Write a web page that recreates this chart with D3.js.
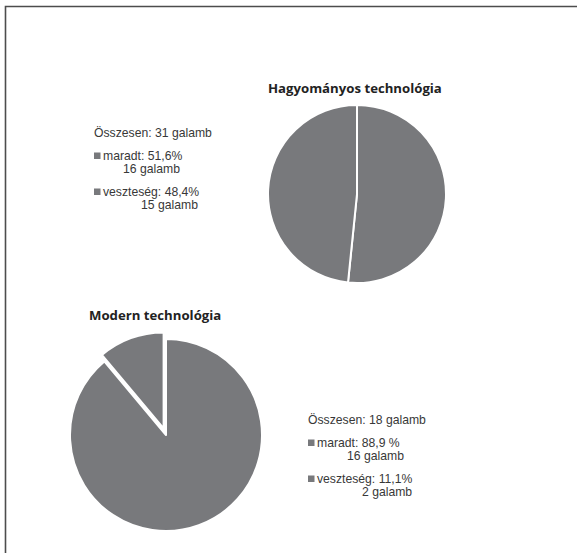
<!DOCTYPE html>
<html>
<head>
<meta charset="utf-8">
<script src="https://cdn.jsdelivr.net/npm/d3@7"></script>
<style>
  html, body { margin: 0; padding: 0; background: #fff; }
  svg { display: block; }
</style>
</head>
<body>
<svg id="chart" width="577" height="553"></svg>
<script>
// ---- data ----
const titles = ["Hagyományos technológia", "Modern technológia"];
const categories = ["maradt", "veszteség"];
const traditionalValues = [16, 15];
const modernValues = [16, 2];
const traditionalPct = ["51,6%", "48,4%"];
const modernPct = ["88,9 %", "11,1%"];
const totalLabel = "Összesen:";
const unitLabel = "galamb";

// ---- style ----
const pieColor = "#78797c";
const textColor = "#383838";
const titleColor = "#222222";

const svg = d3.select("#chart");
svg.append("rect").attr("width", 577).attr("height", 553).attr("fill", "#fff");

// frame (top and left edges visible)
svg.append("path")
  .attr("d", d3.line()([[5.5, 553], [5.5, 6.5], [577, 6.5]]))
  .attr("fill", "none").attr("stroke", "#4d4d4d").attr("stroke-width", 1.6);

const pie = d3.pie().sort(null).value(d => d);

function drawPie(values, cx, cy, r, explodeIndex, explodeDist) {
  const arc = d3.arc().innerRadius(0).outerRadius(r);
  const g = svg.append("g").attr("transform", `translate(${cx},${cy})`);
  g.selectAll("path").data(pie(values)).join("path")
    .attr("d", arc)
    .attr("fill", pieColor)
    .attr("stroke", "#fff")
    .attr("stroke-width", 2)
    .attr("stroke-linejoin", "round")
    .attr("transform", (d, i) => {
      if (i !== explodeIndex) return null;
      const mid = (d.startAngle + d.endAngle) / 2;
      return `translate(${Math.sin(mid) * explodeDist},${-Math.cos(mid) * explodeDist})`;
    });
}

function drawTitle(text, x, y) {
  svg.append("text").attr("x", x).attr("y", y)
    .attr("font-family", "'Open Sans', 'Noto Sans', sans-serif")
    .attr("font-weight", "bold").attr("font-size", 13.2)
    .attr("fill", titleColor).text(text);
}

function drawLegend(values, pcts, x, y, offsets) {
  const total = d3.sum(values);
  const font = "'Liberation Sans', Arial, sans-serif";
  const t = (tx, ty, s) => svg.append("text").attr("x", tx).attr("y", ty)
    .attr("font-family", font).attr("font-size", 12.2).attr("fill", textColor).text(s);
  t(x, y, `${totalLabel} ${total} ${unitLabel}`);
  categories.forEach((c, i) => {
    const by = y + 23 + i * 36;
    svg.append("rect").attr("x", x).attr("y", by - 7.5).attr("width", 6.5).attr("height", 6.5)
      .attr("fill", pieColor);
    t(x + 9, by, `${c}: ${pcts[i]}`);
    t(x + offsets[i], by + 12.5, `${values[i]} ${unitLabel}`);
  });
}

// top chart
drawTitle(titles[0], 268, 93);
drawPie(traditionalValues, 357, 194, 89, -1, 0);
drawLegend(traditionalValues, traditionalPct, 94, 137, [29, 47]);

// bottom chart
drawTitle(titles[1], 89, 320);
drawPie(modernValues, 166, 435, 96, 1, 7);
drawLegend(modernValues, modernPct, 308, 424, [39, 54]);
</script>
</body>
</html>
